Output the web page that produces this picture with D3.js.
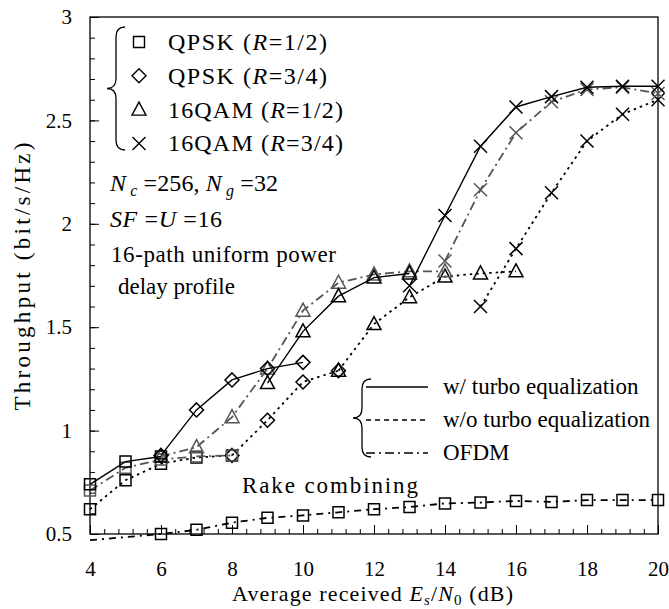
<!DOCTYPE html>
<html>
<head>
<meta charset="utf-8">
<script src="https://cdn.jsdelivr.net/npm/d3@7"></script>
<style>
  body { margin: 0; background: #fff; }
  svg text { font-family: "Liberation Serif", "Times New Roman", serif; fill: #000; }
</style>
</head>
<body>
<svg id="chart" width="669" height="609"></svg>
<script>
// values, [Es/N0 dB, throughput]
var turboQpsk12 = [[4,0.74],[5,0.85],[6,0.875]];
var turboQpsk34 = [[6,0.88],[7,1.10],[8,1.245],[9,1.30],[10,1.33]];
var turbo16qam12 = [[9,1.23],[10,1.48],[11,1.65],[12,1.74],[13,1.76]];
var turbo16qam34 = [[13,1.70],[14,2.04],[15,2.375],[16,2.565],[17,2.615],[18,2.66],[19,2.665],[20,2.665]];

var woQpsk12 = [[4,0.62],[5,0.76],[6,0.84],[7,0.87],[8,0.88]];
var woQpsk34 = [[8,0.88],[9,1.05],[10,1.235],[11,1.29]];
var wo16qam12 = [[11,1.29],[12,1.515],[13,1.645],[14,1.745],[15,1.76],[16,1.77]];
var wo16qam34 = [[15,1.60],[16,1.88],[17,2.15],[18,2.40],[19,2.53],[20,2.60]];

var ofdmQpsk12 = [[4,0.71],[5,0.82],[6,0.86],[7,0.875],[8,0.88]];
var ofdm16qam12 = [[6,0.875],[7,0.92],[8,1.065],[9,1.30],[10,1.58],[11,1.715],[12,1.755],[13,1.77],[14,1.77]];
var ofdm16qam34 = [[14,1.82],[15,2.165],[16,2.44],[17,2.59],[18,2.65],[19,2.66],[20,2.63]];

var rake = [[4,0.47],[5,0.485],[6,0.50],[7,0.52],[8,0.555],[9,0.578],[10,0.59],[11,0.605],[12,0.62],[13,0.63],[14,0.648],[15,0.652],[16,0.66],[17,0.655],[18,0.664],[19,0.664],[20,0.664]];

var xTicks = [4, 6, 8, 10, 12, 14, 16, 18, 20];
var yTicks = [0.5, 1, 1.5, 2, 2.5, 3];

var svg = d3.select('#chart');
var pL = 90, pR = 658, pT = 17, pB = 534;

var x = d3.scaleLinear().domain([4, 20]).range([pL, pR]);
var y = d3.scaleLinear().domain([0.5, 3]).range([pB, pT]);

var GRAY = '#555';
var styles = {
  turbo: { dash: null, color: '#000' },
  wo: { dash: '2.5,4', color: '#000' },
  ofdm: { dash: '9,4,2,4', color: GRAY },
  rake: { dash: '7,5,2,5', color: '#000' }
};

var series = [
  { d: rake, s: 'rake', m: 'square' },
  { d: woQpsk12, s: 'wo', m: 'square' },
  { d: woQpsk34, s: 'wo', m: 'diamond' },
  { d: wo16qam12, s: 'wo', m: 'triangle' },
  { d: wo16qam34, s: 'wo', m: 'cross' },
  { d: ofdmQpsk12, s: 'ofdm', m: 'square' },
  { d: ofdm16qam12, s: 'ofdm', m: 'triangle' },
  { d: ofdm16qam34, s: 'ofdm', m: 'cross' },
  { d: turboQpsk12, s: 'turbo', m: 'square' },
  { d: turboQpsk34, s: 'turbo', m: 'diamond' },
  { d: turbo16qam12, s: 'turbo', m: 'triangle' },
  { d: turbo16qam34, s: 'turbo', m: 'cross' }
];

function markerPath(type) {
  if (type === 'square') return 'M-5.5,-5.5H5.5V5.5H-5.5Z';
  if (type === 'diamond') return 'M0,-7L7,0L0,7L-7,0Z';
  if (type === 'triangle') return 'M0,-7.5L7,5.5L-7,5.5Z';
  return 'M-6.5,-6.5L6.5,6.5M-6.5,6.5L6.5,-6.5';
}

// frame
svg.append('rect')
  .attr('x', pL).attr('y', pT)
  .attr('width', pR - pL).attr('height', pB - pT)
  .attr('fill', 'none').attr('stroke', '#000').attr('stroke-width', 1.3);

// axes, ticks pointing inward
var xMinor = d3.range(4, 20.01, 0.4);
var yMinor = d3.range(0.5, 3.001, 0.1);

var gx = svg.append('g').attr('transform', 'translate(0,' + pB + ')')
  .call(d3.axisBottom(x).tickValues(xMinor).tickSize(-5).tickFormat(''));
gx.select('.domain').remove();
var gxMaj = svg.append('g').attr('transform', 'translate(0,' + pB + ')')
  .call(d3.axisBottom(x).tickValues(xTicks).tickSize(-9).tickPadding(27).tickFormat(d3.format('d')));
gxMaj.select('.domain').remove();
gxMaj.selectAll('text').attr('font-size', 21).attr('font-family', '"Liberation Serif", serif');

var gy = svg.append('g').attr('transform', 'translate(' + pL + ',0)')
  .call(d3.axisLeft(y).tickValues(yMinor).tickSize(-5).tickFormat(''));
gy.select('.domain').remove();
var gyMaj = svg.append('g').attr('transform', 'translate(' + pL + ',0)')
  .call(d3.axisLeft(y).tickValues(yTicks).tickSize(-9).tickPadding(18).tickFormat(function(d) { return d; }));
gyMaj.select('.domain').remove();
gyMaj.selectAll('text').attr('font-size', 21).attr('font-family', '"Liberation Serif", serif');
svg.selectAll('.tick line').attr('stroke', '#000').attr('stroke-width', 1);

// lines + markers
var line = d3.line().x(function(p) { return x(p[0]); }).y(function(p) { return y(p[1]); });

series.forEach(function(sr) {
  var st = styles[sr.s];
  svg.append('path')
    .datum(sr.d)
    .attr('d', line)
    .attr('fill', 'none')
    .attr('stroke', st.color)
    .attr('stroke-width', sr.s === 'turbo' ? 1.4 : 1.8)
    .attr('stroke-dasharray', st.dash);
  svg.append('g').selectAll('path')
    .data(sr.d.filter(function(p) { return p[1] >= 0.5; }))
    .join('path')
    .attr('transform', function(p) { return 'translate(' + x(p[0]) + ',' + y(p[1]) + ')'; })
    .attr('d', markerPath(sr.m))
    .attr('fill', 'none')
    .attr('stroke', st.color)
    .attr('stroke-width', 1.5);
});

// axis titles
svg.append('text')
  .attr('transform', 'translate(30,' + ((pT + pB) / 2 + 1) + ') rotate(-90)')
  .attr('text-anchor', 'middle')
  .attr('font-size', 23)
  .attr('textLength', 268).attr('lengthAdjust', 'spacing')
  .text('Throughput (bit/s/Hz)');

var xl = svg.append('text')
  .attr('x', 232).attr('y', 601)
  .attr('font-size', 22)
  .attr('textLength', 281).attr('lengthAdjust', 'spacing');
xl.append('tspan').text('Average received ');
xl.append('tspan').attr('font-style', 'italic').text('E');
xl.append('tspan').attr('font-style', 'italic').attr('font-size', 15).attr('dy', 4).text('s');
xl.append('tspan').attr('dy', -4).text('/');
xl.append('tspan').attr('font-style', 'italic').text('N');
xl.append('tspan').attr('font-size', 15).attr('dy', 4).text('0');
xl.append('tspan').attr('dy', -4).text(' (dB)');

// modulation legend (top left)
function brace(g, x0, y0, y1) {
  var ym = (y0 + y1) / 2, w = 9;
  g.append('path')
    .attr('d', 'M' + (x0 + w) + ',' + y0 + ' Q' + x0 + ',' + y0 + ' ' + x0 + ',' + (y0 + 10) +
      ' L' + x0 + ',' + (ym - 10) + ' Q' + x0 + ',' + ym + ' ' + (x0 - w) + ',' + ym +
      ' Q' + x0 + ',' + ym + ' ' + x0 + ',' + (ym + 10) +
      ' L' + x0 + ',' + (y1 - 10) + ' Q' + x0 + ',' + y1 + ' ' + (x0 + w) + ',' + y1)
    .attr('fill', 'none').attr('stroke', '#000').attr('stroke-width', 1.3);
}

var modLabels = [['QPSK (', '=1/2)'], ['QPSK (', '=3/4)'], ['16QAM (', '=1/2)'], ['16QAM (', '=3/4)']];
var modWidths = [159, 159, 175, 175];
var modMarkers = ['square', 'diamond', 'triangle', 'cross'];
var lg = svg.append('g');
brace(lg, 116, 27, 150);
modLabels.forEach(function(lab, i) {
  var yy = 42 + i * 33.8;
  lg.append('path')
    .attr('transform', 'translate(139,' + yy + ')')
    .attr('d', markerPath(modMarkers[i]))
    .attr('fill', 'none').attr('stroke', '#000').attr('stroke-width', 1.4);
  var t = lg.append('text').attr('x', 168).attr('y', yy + 8).attr('font-size', 24)
    .attr('textLength', modWidths[i]).attr('lengthAdjust', 'spacing');
  t.append('tspan').text(lab[0]);
  t.append('tspan').attr('font-style', 'italic').text('R');
  t.append('tspan').text(lab[1]);
});

// parameter notes
var n1 = svg.append('text').attr('x', 110).attr('y', 191).attr('font-size', 24)
  .attr('textLength', 168).attr('lengthAdjust', 'spacing');
n1.append('tspan').attr('font-style', 'italic').text('N');
n1.append('tspan').attr('font-style', 'italic').attr('font-size', 16).attr('dy', 5).text(' c');
n1.append('tspan').attr('dy', -5).text(' =256, ');
n1.append('tspan').attr('font-style', 'italic').text('N');
n1.append('tspan').attr('font-style', 'italic').attr('font-size', 16).attr('dy', 5).text(' g');
n1.append('tspan').attr('dy', -5).text(' =32');

var n2 = svg.append('text').attr('x', 110).attr('y', 227).attr('font-size', 24)
  .attr('textLength', 112).attr('lengthAdjust', 'spacing');
n2.append('tspan').attr('font-style', 'italic').text('SF');
n2.append('tspan').text(' =');
n2.append('tspan').attr('font-style', 'italic').text('U');
n2.append('tspan').text(' =16');

svg.append('text').attr('x', 111).attr('y', 262).attr('font-size', 23)
  .attr('textLength', 225).attr('lengthAdjust', 'spacing').text('16-path uniform power');
svg.append('text').attr('x', 118).attr('y', 294).attr('font-size', 23).text('delay profile');

// method legend (bottom right)
var methods = [['turbo', 'w/ turbo equalization'], ['wo', 'w/o turbo equalization'], ['ofdm', 'OFDM']];
var mg = svg.append('g');
brace(mg, 362, 379, 457);
methods.forEach(function(m, i) {
  var yy = 387 + i * 33;
  mg.append('line')
    .attr('x1', 366).attr('x2', 428).attr('y1', yy).attr('y2', yy)
    .attr('stroke', '#000').attr('stroke-width', 1.3)
    .attr('stroke-dasharray', m[0] === 'turbo' ? null : (m[0] === 'wo' ? '5,4' : '9,4,2,4'));
  mg.append('text').attr('x', 443).attr('y', yy + 7).attr('font-size', 23).text(m[1]);
});

svg.append('text').attr('x', 242).attr('y', 493).attr('font-size', 23)
  .attr('textLength', 176).attr('lengthAdjust', 'spacing').text('Rake combining');
</script>
</body>
</html>
